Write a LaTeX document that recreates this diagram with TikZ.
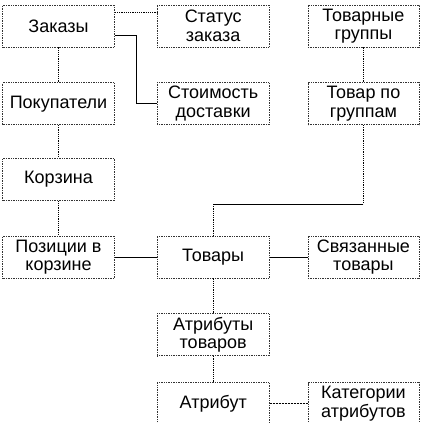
\documentclass[tikz,border=0pt]{standalone}
\usepackage{fontspec}
\setmainfont{Liberation Sans}
\usepackage{tikz}
\usetikzlibrary{positioning}

\begin{document}
\begin{tikzpicture}[
  x=1pt, y=1pt,
  box/.style={rectangle, draw=black!80, densely dotted, line width=0.7pt,
              minimum width=112pt, minimum height=42pt, inner sep=0.5pt,
              font=\fontsize{18pt}{18.5pt}\selectfont},
  link/.style={line width=0.9pt},
  dotlink/.style={densely dotted, line width=1.2pt},
  dashlink/.style={dash pattern=on 2pt off 1pt, line width=0.8pt},
  every node/.style={align=center}
]
\useasboundingbox (0,0) rectangle (423,-423);

\node[box] (zakazy) at (58.5,-26) {Заказы};
\node[box, right=42pt of zakazy] (status) {Статус\\заказа};
\node[box, right=38pt of status, minimum width=111pt] (tgroups) {Товарные\\группы};
\node[box, below=35pt of zakazy] (pokup) {Покупатели};
\node[box, below=35pt of status] (dostavka) {Стоимость\\доставки};
\node[box, below=35pt of tgroups, minimum width=111pt] (tpogr) {Товар по\\группам};
\node[box, below=33pt of pokup] (korzina) {Корзина};
\node[box, below=35pt of korzina] (pozicii) {Позиции в\\корзине};
\node[box, right=42pt of pozicii] (tovary) {Товары};
\node[box, right=38pt of tovary, minimum width=111pt] (svyaz) {Связанные\\товары};
\node[box, below=35pt of tovary] (attov) {Атрибуты\\товаров};
\node[box, below=26pt of attov] (atribut) {Атрибут};
\node[box, right=38pt of atribut, minimum width=111pt] (katatr) {Категории\\атрибутов};

% upper left group
\draw[dotlink] ([yshift=-8pt]zakazy.north east) -- ([yshift=-8pt]status.north west);
\draw[link] ([yshift=-9pt]zakazy.east) -- ++(22pt,0) |- (dostavka.west);
\draw[dotlink] (zakazy) -- (pokup);
\draw[dotlink] (pokup) -- (korzina);
\draw[dotlink] (korzina) -- (pozicii);

% groups of goods
\draw[dotlink] (tgroups) -- (tpogr);
\draw[dotlink] (tpogr.south) -- ++(0,-79pt) coordinate (bendA);
\coordinate (bendB) at (bendA -| tovary.north);
\draw[link] (bendA) -- (bendB);
\draw[dotlink] (bendB) -- (tovary.north);

% goods row
\draw[link] (pozicii) -- (tovary);
\draw[link] (tovary) -- (svyaz);
\draw[dotlink] (tovary) -- (attov);
\draw[dotlink] (attov) -- (atribut);
\draw[dashlink] (atribut) -- (katatr);
\end{tikzpicture}
\end{document}
